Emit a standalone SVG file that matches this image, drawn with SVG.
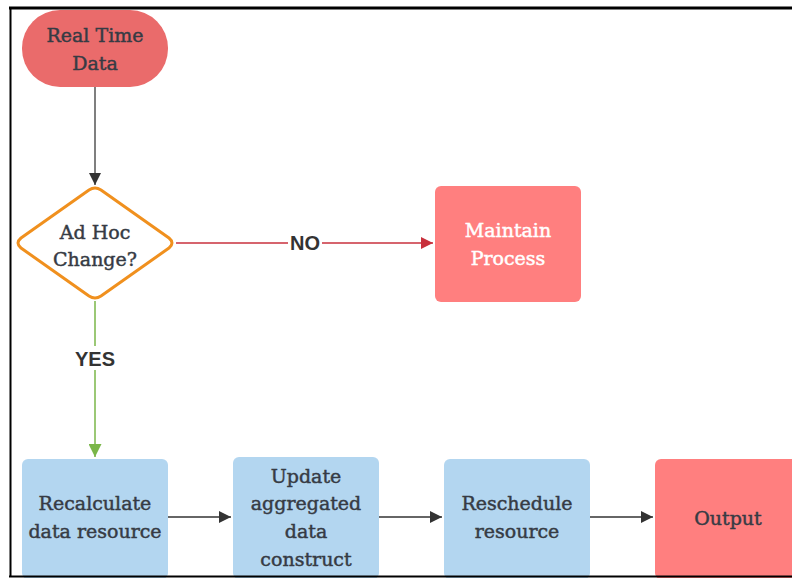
<svg xmlns="http://www.w3.org/2000/svg" width="792" height="578" viewBox="0 0 792 578">
<defs>
<style>
.t{font-family:"DejaVu Serif","Liberation Serif",serif;font-size:19px;fill:#363b44;stroke:#363b44;stroke-width:0.45;text-anchor:middle}
.w{fill:#ffffff;stroke:#ffffff}
.lbl{font-family:"Liberation Sans",Arial,sans-serif;font-size:20px;font-weight:bold;fill:#333333;text-anchor:middle}
.blue{fill:#b3d6f0}
.pink{fill:#ff7f7f}
.e{fill:none;stroke-width:1.5}
</style>
<marker id="ag" viewBox="0 0 10 10" refX="10" refY="5" markerWidth="12" markerHeight="12" markerUnits="userSpaceOnUse" orient="auto"><path d="M0,0 L10,5 L0,10 z" fill="#333333"/></marker>
<marker id="ar" viewBox="0 0 10 10" refX="10" refY="5" markerWidth="14" markerHeight="12" markerUnits="userSpaceOnUse" orient="auto"><path d="M0,0 L10,5 L0,10 z" fill="#c8303c"/></marker>
<marker id="agr" viewBox="0 0 10 10" refX="10" refY="5" markerWidth="16" markerHeight="13" markerUnits="userSpaceOnUse" orient="auto"><path d="M0,0 L10,5 L0,10 z" fill="#7ab648"/></marker>
</defs>
<rect width="792" height="578" fill="#ffffff"/>
<g id="connectors">
<line class="e" x1="95" y1="87" x2="95" y2="185" stroke="#555555" marker-end="url(#ag)"/>
<line class="e" x1="176" y1="243" x2="433" y2="243" stroke="#c8303c" marker-end="url(#ar)"/>
<rect x="288" y="232" width="34" height="22" fill="#ffffff"/>
<text class="lbl" x="305" y="250">NO</text>
<line class="e" x1="95" y1="301" x2="95" y2="457" stroke="#7ab648" marker-end="url(#agr)"/>
<rect x="72" y="346" width="46" height="24" fill="#ffffff"/>
<text class="lbl" x="95" y="366">YES</text>
<line class="e" x1="168" y1="517" x2="231" y2="517" stroke="#333333" marker-end="url(#ag)"/>
<line class="e" x1="379" y1="517" x2="442" y2="517" stroke="#333333" marker-end="url(#ag)"/>
<line class="e" x1="590" y1="517" x2="653" y2="517" stroke="#333333" marker-end="url(#ag)"/>
</g>
<g id="real-time-data">
<rect x="22" y="10" width="146" height="77" rx="38" fill="#ea6b6b"/>
<text class="t" x="95" y="42">Real Time</text>
<text class="t" x="95" y="70">Data</text>
</g>
<g id="ad-hoc-change">
<path d="M89,190 Q95,186 101,190 L169,238 Q175,243 169,248 L101,296 Q95,300 89,296 L21,248 Q15,243 21,238 Z" fill="#ffffff" stroke="#f0901e" stroke-width="3" stroke-linejoin="round"/>
<text class="t" x="95" y="239">Ad Hoc</text>
<text class="t" x="95" y="266">Change?</text>
</g>
<g id="maintain-process">
<rect class="pink" x="435" y="186" width="146" height="116" rx="6"/>
<text class="t w" x="508" y="237">Maintain</text>
<text class="t w" x="508" y="265">Process</text>
</g>
<g id="recalculate">
<rect class="blue" x="22" y="459" width="146" height="120" rx="6"/>
<text class="t" x="95" y="510">Recalculate</text>
<text class="t" x="95" y="538">data resource</text>
</g>
<g id="update">
<rect class="blue" x="233" y="457" width="146" height="122" rx="6"/>
<text class="t" x="306" y="483">Update</text>
<text class="t" x="306" y="510">aggregated</text>
<text class="t" x="306" y="538">data</text>
<text class="t" x="306" y="566">construct</text>
</g>
<g id="reschedule">
<rect class="blue" x="444" y="459" width="146" height="120" rx="6"/>
<text class="t" x="517" y="510">Reschedule</text>
<text class="t" x="517" y="538">resource</text>
</g>
<g id="output">
<rect class="pink" x="655" y="459" width="150" height="120" rx="6"/>
<text class="t" x="728" y="525">Output</text>
</g>
<g id="frame" fill="none" stroke="#000000">
<line x1="9" y1="8" x2="792" y2="8" stroke-width="3"/>
<line x1="10.5" y1="7" x2="10.5" y2="577" stroke-width="2"/>
<line x1="9" y1="576.5" x2="792" y2="576.5" stroke-width="2"/>
</g>
</svg>
